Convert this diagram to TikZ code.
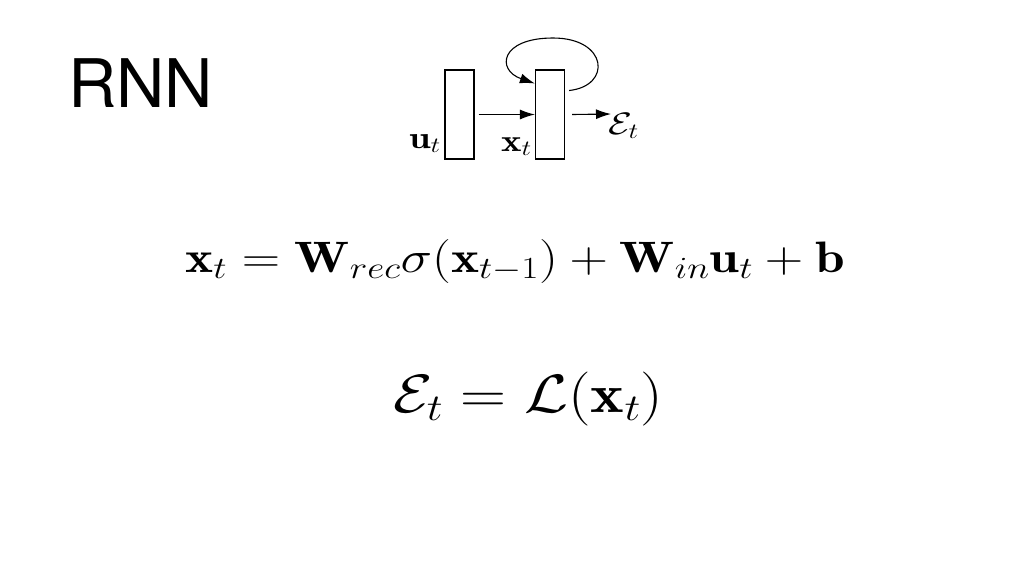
\RequirePackage{fix-cm}
\documentclass[tikz,border=0pt]{standalone}
\usepackage{amsmath}
\usepackage{amssymb}
\usepackage{fontspec}
\usepackage{graphicx}
\setsansfont{TeX Gyre Heros}
\usetikzlibrary{arrows.meta}

\newcommand{\stretchx}[2]{\scalebox{#1}[1]{#2}}

\begin{document}
\begin{tikzpicture}[x=1pt, y=-1pt,
		cell/.style={draw, line width=1.2pt, minimum width=29pt, minimum height=89pt, inner sep=0pt},
		link/.style={-{Latex[length=15pt, width=10pt]}, line width=1.1pt},
		lbl/.style={inner sep=0pt, font=\fontsize{31}{34}\selectfont},
		eqn/.style={inner sep=0pt, anchor=base west}]
		% Canvas
		\useasboundingbox (0, 0) rectangle (1024, 576);

		% Title
		\node (title) [anchor=base west, inner sep=0pt, font=\sffamily\fontsize{67}{70}\selectfont] at (68, 107) {RNN};

		% Input and hidden cells
		\node (u) [cell] at (459.5, 114.5) {};
		\node (x) [cell] at (550, 114.5) {};

		% Labels of the cells
		\node (ul) [lbl, anchor=base east] at (441, 148) {\stretchx{1.25}{$\mathbf{u}_t$}};
		\node (xl) [lbl, anchor=base east] at (532, 151) {\stretchx{1.25}{$\mathbf{x}_t$}};

		% Output
		\coordinate (o) at (611, 114);
		\node (el) [lbl, anchor=base west] at (608, 134) {\stretchx{1.25}{$\mathcal{E}_t$}};

		% Connections
		\draw [link] ([xshift=4pt]u.east) -- (x.west);
		\draw [link] ([xshift=7pt]x.east) -- (o);
		\draw [link] ([xshift=4pt, yshift=24pt]x.east)
			.. controls (612, 86) and (608, 38) .. (553, 38)
			.. controls (500, 38) and (496, 70) .. ([yshift=31pt]x.west);

		% Equations
		\node (eq1) [eqn, font=\fontsize{44}{48}\selectfont] at (185, 272)
			{\stretchx{1.21}{$\mathbf{x}_t = \mathbf{W}_{rec}\sigma(\mathbf{x}_{t-1}) + \mathbf{W}_{in}\mathbf{u}_t + \mathbf{b}$}};
		\node (eq2) [eqn, font=\fontsize{54}{58}\selectfont] at (393, 412)
			{\stretchx{1.18}{$\mathcal{E}_t = \mathcal{L}(\mathbf{x}_t)$}};
	\end{tikzpicture}
\end{document}
